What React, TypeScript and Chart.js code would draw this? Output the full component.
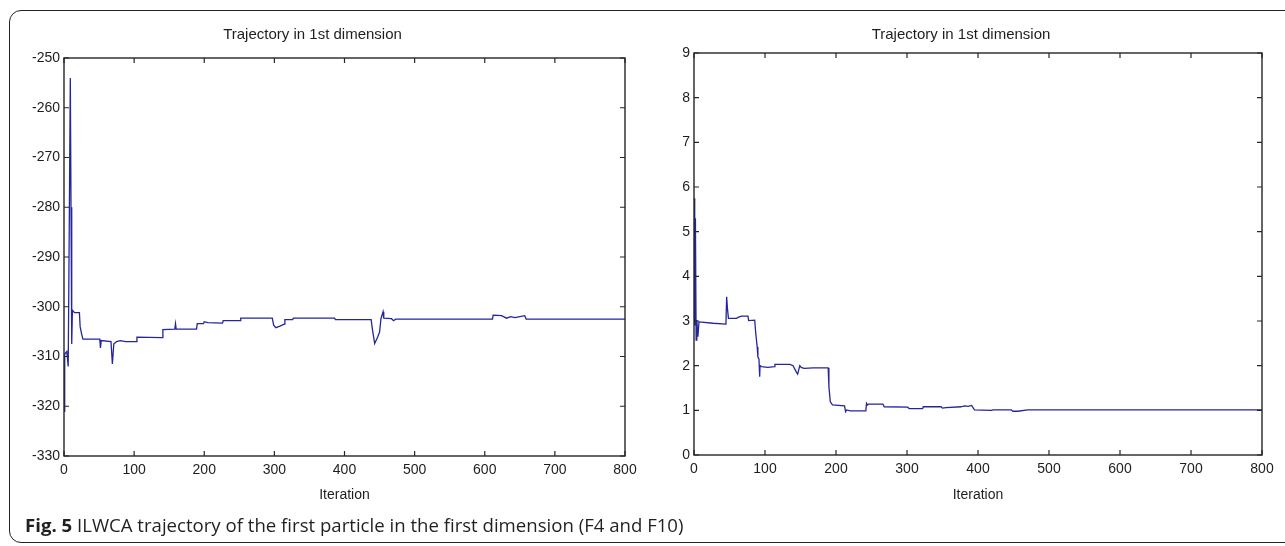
import React, { useEffect, useRef } from "react";
import { Chart, registerables } from "chart.js";

Chart.register(...registerables);

// ---------- data ----------
const leftIter = [0, 1, 4, 6, 7.5, 9, 10, 11, 12, 15, 22, 23, 25, 27, 51, 52, 53, 67, 69, 71, 75, 80, 88, 103, 104, 140, 141, 158, 159, 160, 189, 190, 199, 200, 205, 226, 227, 251, 252, 297, 299, 302, 308, 314, 315, 326, 327, 386, 387, 438, 440, 443, 447, 450, 452, 455, 456, 467, 470, 473, 611, 612, 624, 631, 637, 643, 650, 657, 659, 800];
const leftValue = [-321, -309.5, -309, -312, -284, -254, -280, -307.5, -300.7, -301.2, -301.2, -304, -305.4, -306.5, -306.5, -308.3, -306.8, -307, -311.5, -307.5, -307, -306.8, -307, -307, -306.1, -306.2, -304.6, -304.5, -303.4, -304.5, -304.5, -303.4, -303.4, -303.0, -303.2, -303.3, -302.8, -302.8, -302.3, -302.3, -303.7, -304.2, -303.9, -303.5, -302.6, -302.6, -302.3, -302.3, -302.6, -302.6, -304.7, -307.4, -306.2, -305.1, -302.4, -301.0, -302.3, -302.4, -302.8, -302.5, -302.5, -301.7, -301.8, -302.3, -302.0, -302.2, -302.0, -301.8, -302.5, -302.5];

const rightIter = [0, 1, 2, 3, 4, 5.5, 7, 27, 45, 46, 47, 48.5, 60, 62, 67, 76, 77, 85.5, 87, 89, 90, 91.5, 92.5, 93, 95, 104, 113.5, 114, 135, 139.5, 144, 146, 149, 151, 155, 168, 189, 190, 192, 195, 212, 213.5, 215, 220, 242, 243, 244.5, 246, 266, 268, 301, 303, 322, 323, 348, 350, 355, 376, 381, 386, 391, 395, 419, 421, 447, 449, 456, 470, 800];
const rightValue = [5.75, 2.9, 5.3, 2.57, 3.02, 2.65, 2.98, 2.95, 2.93, 3.54, 3.3, 3.06, 3.06, 3.08, 3.11, 3.11, 3.01, 3.02, 2.72, 2.42, 2.19, 2.15, 1.75, 2.0, 1.98, 1.96, 1.98, 2.03, 2.03, 2.0, 1.86, 1.81, 2.0, 1.96, 1.94, 1.95, 1.95, 1.53, 1.19, 1.12, 1.10, 0.97, 1.01, 0.99, 0.99, 1.16, 1.12, 1.14, 1.14, 1.08, 1.07, 1.04, 1.04, 1.08, 1.08, 1.05, 1.06, 1.08, 1.1, 1.09, 1.11, 1.01, 1.0, 1.01, 1.01, 0.98, 0.98, 1.01, 1.01];

const xTicks = [0, 100, 200, 300, 400, 500, 600, 700, 800];
const leftYTicks = [-330, -320, -310, -300, -290, -280, -270, -260, -250];
const rightYTicks = [0, 1, 2, 3, 4, 5, 6, 7, 8, 9];

const plotTitle = "Trajectory in 1st dimension";
const xTitle = "Iteration";
const captionBold = "Fig. 5";
const captionText = " ILWCA trajectory of the first particle in the first dimension (F4 and F10)";

// ---------- styles ----------
const LINE_COLOR = "#25259e";
const AXIS_COLOR = "#262626";
const TEXT_COLOR = "#1e1e1e";
const FONT = "'Liberation Sans', Arial, sans-serif";

const boxTicks = {
  id: "boxTicks",
  afterDatasetsDraw(chart: any) {
    const { ctx, chartArea: a, scales } = chart;
    const xs = scales.x;
    const ys = scales.y;
    const L = 5;
    ctx.save();
    ctx.strokeStyle = AXIS_COLOR;
    ctx.lineWidth = 1.2;
    ctx.beginPath();
    xs.ticks.forEach((t: any) => {
      const px = xs.getPixelForValue(t.value);
      ctx.moveTo(px, a.bottom);
      ctx.lineTo(px, a.bottom - L);
      ctx.moveTo(px, a.top);
      ctx.lineTo(px, a.top + L);
    });
    ys.ticks.forEach((t: any) => {
      const py = ys.getPixelForValue(t.value);
      ctx.moveTo(a.left, py);
      ctx.lineTo(a.left + L, py);
      ctx.moveTo(a.right, py);
      ctx.lineTo(a.right - L, py);
    });
    ctx.stroke();
    ctx.lineWidth = 1.4;
    ctx.strokeRect(a.left, a.top, a.right - a.left, a.bottom - a.top);
    ctx.restore();
  },
};

type PanelProps = {
  iters: number[];
  values: number[];
  yTicks: number[];
  yWidth: number;
  padRight: number;
  titlePadBottom: number;
  xHeight: number;
  width: number;
  height: number;
};

function Panel(p: PanelProps) {
  const ref = useRef<HTMLCanvasElement | null>(null);
  useEffect(() => {
    if (!ref.current) return;
    const data = p.iters.map((x, i) => ({ x, y: p.values[i] }));
    const chart = new Chart(ref.current, {
      type: "line",
      data: {
        datasets: [
          {
            data,
            borderColor: LINE_COLOR,
            borderWidth: 1.3,
            pointRadius: 0,
            fill: false,
            tension: 0,
          },
        ],
      },
      options: {
        animation: false,
        responsive: false,
        devicePixelRatio: 1,
        layout: { padding: { left: 0, right: p.padRight, top: 0, bottom: 0 } },
        plugins: {
          legend: { display: false },
          tooltip: { enabled: false },
          title: {
            display: true,
            text: plotTitle,
            color: TEXT_COLOR,
            font: { family: FONT, size: 15, weight: "normal", lineHeight: 1.2 },
            padding: { top: 26, bottom: p.titlePadBottom },
          },
        },
        scales: {
          x: {
            type: "linear",
            min: xTicks[0],
            max: xTicks[xTicks.length - 1],
            grid: { display: false, drawTicks: false },
            border: { display: false },
            afterBuildTicks: (s: any) => {
              s.ticks = xTicks.map((v) => ({ value: v }));
            },
            afterFit: (s: any) => {
              s.height = p.xHeight;
            },
            ticks: {
              autoSkip: false,
              maxRotation: 0,
              padding: 6,
              color: TEXT_COLOR,
              font: { family: FONT, size: 14, lineHeight: 1.2 },
              callback: (v: any) => String(v),
            },
            title: {
              display: true,
              text: xTitle,
              color: TEXT_COLOR,
              font: { family: FONT, size: 14, lineHeight: 1.2 },
              padding: { top: 0, bottom: 16 },
            },
          },
          y: {
            type: "linear",
            min: p.yTicks[0],
            max: p.yTicks[p.yTicks.length - 1],
            grid: { display: false, drawTicks: false },
            border: { display: false },
            afterBuildTicks: (s: any) => {
              s.ticks = p.yTicks.map((v) => ({ value: v }));
            },
            afterFit: (s: any) => {
              s.width = p.yWidth;
            },
            ticks: {
              autoSkip: false,
              padding: 4,
              color: TEXT_COLOR,
              font: { family: FONT, size: 14, lineHeight: 1.2 },
              callback: (v: any) => String(v),
            },
          },
        },
      },
      plugins: [boxTicks],
    });
    return () => chart.destroy();
  }, []);
  return <canvas ref={ref} width={p.width} height={p.height} style={{ display: "block", width: p.width, height: p.height }} />;
}

export default function App() {
  return (
    <div
      style={{
        position: "fixed",
        left: 0,
        top: 0,
        width: 1285,
        height: 546,
        overflow: "hidden",
        background: "#ffffff",
      }}
    >
      <div
        style={{
          position: "absolute",
          left: 9,
          top: 10,
          width: 1300,
          height: 533,
          border: "1.5px solid #222",
          borderRadius: 12,
          boxSizing: "border-box",
        }}
      />
      <div style={{ position: "absolute", left: 0, top: 0 }}>
        <Panel
          iters={leftIter}
          values={leftValue}
          yTicks={leftYTicks}
          yWidth={64}
          padRight={35}
          titlePadBottom={14}
          xHeight={64}
          width={660}
          height={520}
        />
      </div>
      <div style={{ position: "absolute", left: 660, top: 0 }}>
        <Panel
          iters={rightIter}
          values={rightValue}
          yTicks={rightYTicks}
          yWidth={34}
          padRight={23}
          titlePadBottom={9}
          xHeight={65}
          width={625}
          height={520}
        />
      </div>
      <div
        style={{
          position: "absolute",
          left: 25,
          top: 512,
          fontFamily: "'Open Sans', sans-serif",
          fontSize: 18.6,
          lineHeight: "26px",
          color: "#231f20",
          whiteSpace: "nowrap",
        }}
      >
        <span style={{ fontWeight: 700 }}>{captionBold}</span>
        <span>{captionText}</span>
      </div>
    </div>
  );
}
